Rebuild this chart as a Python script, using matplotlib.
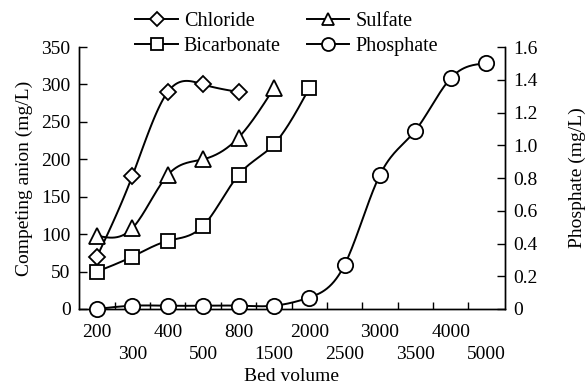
import numpy as np
import matplotlib
matplotlib.use("Agg")
import matplotlib.pyplot as plt

plt.rcParams['font.family'] = ['Liberation Serif', 'DejaVu Serif']
plt.rcParams['mathtext.fontset'] = 'stix'

bed_volume = ["200", "300", "400", "500", "800", "1500", "2000", "2500", "3000", "3500", "4000", "5000"]
chloride = [70, 178, 290, 300, 290]
sulfate = [98, 108, 179, 200, 229, 295]
bicarbonate = [50, 70, 91, 111, 179, 220, 295]
phosphate = [0.0, 0.02, 0.02, 0.02, 0.02, 0.02, 0.07, 0.27, 0.82, 1.09, 1.41, 1.50]


def natural_spline(y, n=30):
    y = np.asarray(y, dtype=float)
    x = np.arange(len(y), dtype=float)
    m = len(y)
    if m < 3:
        return x, y
    A = np.zeros((m, m))
    b = np.zeros(m)
    A[0, 0] = 1
    A[-1, -1] = 1
    for i in range(1, m - 1):
        A[i, i - 1] = 1
        A[i, i] = 4
        A[i, i + 1] = 1
        b[i] = 6 * (y[i + 1] - 2 * y[i] + y[i - 1])
    M = np.linalg.solve(A, b)
    xs, ys = [], []
    for i in range(m - 1):
        t = np.linspace(0, 1, n, endpoint=(i == m - 2))
        a = (1 - t)
        val = a * y[i] + t * y[i + 1] + ((a ** 3 - a) * M[i] + (t ** 3 - t) * M[i + 1]) / 6
        xs.append(i + t)
        ys.append(val)
    return np.concatenate(xs), np.concatenate(ys)


fig = plt.figure(figsize=(5.85, 3.89), dpi=100)
ax = fig.add_axes([0.135, 0.2057, 0.728, 0.6733])
ax2 = ax.twinx()

lw = 1.4
styles = [
    ("Chloride", chloride, "D", 8, ax),
    ("Bicarbonate", bicarbonate, "s", 10, ax),
    ("Sulfate", sulfate, "^", 11, ax),
    ("Phosphate", phosphate, "o", 11, ax2),
]
handles = []
for name, vals, mk, size, a in styles:
    xs, ys = natural_spline(vals)
    a.plot(xs, ys, color="black", lw=lw, zorder=2)
    a.plot(np.arange(len(vals)), vals, ls="none", marker=mk, ms=size,
           mfc="white", mec="black", mew=1.3, zorder=3, clip_on=False)
    h, = a.plot([], [], color="black", lw=lw, marker=mk, ms=size * 0.85,
                mfc="white", mec="black", mew=1.3, label=name)
    handles.append(h)

ax.set_xlim(-0.51, 11.53)
ax.set_ylim(0, 350)
ax2.set_ylim(0, 1.6)
ax.set_yticks(np.arange(0, 351, 50))
ax2.set_yticks(np.round(np.arange(0, 1.61, 0.2), 1))
ax2.set_yticklabels(["0"] + [f"{v:.1f}" for v in np.arange(0.2, 1.61, 0.2)])

ax.set_xticks(np.arange(len(bed_volume)))
ax.set_xticklabels([lab if i % 2 == 0 else "\n" + lab for i, lab in enumerate(bed_volume)])
for lab in ax.get_xticklabels():
    lab.set_linespacing(1.35)
ax.set_xticks(np.arange(len(bed_volume) - 1) + 0.5, minor=True)
ax.tick_params(axis="x", which="major", length=0, pad=11, labelsize=14)
ax.tick_params(axis="x", which="minor", length=5, direction="in", width=1)
ax.tick_params(axis="y", which="major", length=6, direction="in", width=1, labelsize=14, pad=6)
ax2.tick_params(axis="y", which="major", length=6, direction="in", width=1, labelsize=14, pad=6)

for a in (ax, ax2):
    a.spines["top"].set_visible(False)
    for s in ("left", "right", "bottom"):
        a.spines[s].set_linewidth(1.0)

ax.set_ylabel("Competing anion (mg/L)", fontsize=14, labelpad=6)
ax2.set_ylabel("Phosphate (mg/L)", fontsize=14, labelpad=22)
ax.set_xlabel("Bed volume", fontsize=14, labelpad=4)

fig.legend(handles=handles, loc="upper center", bbox_to_anchor=(0.49, 0.99), ncol=2,
           frameon=False, fontsize=14.5, handlelength=2.1, handletextpad=0.3,
           columnspacing=1.3, labelspacing=0.3, borderaxespad=0)

fig.savefig("out.png", dpi=100)
